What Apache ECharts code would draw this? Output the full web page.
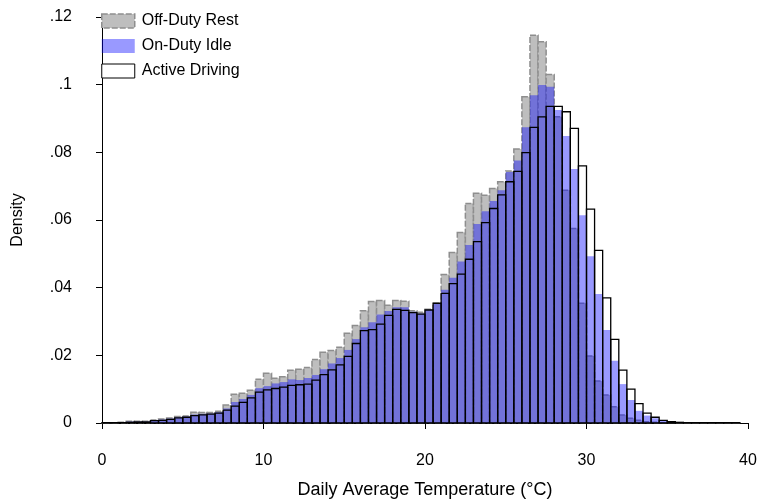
<!DOCTYPE html>
<html>
<head>
<meta charset="utf-8">
<script src="https://cdn.jsdelivr.net/npm/echarts@6/dist/echarts.min.js"></script>
<style>
  html, body { margin: 0; padding: 0; background: #fff; }
  #chart { width: 761px; height: 500px; }
</style>
</head>
<body>
<div id="chart"></div>
<script>
// Histogram bins: 0.5 °C wide, starting at 0 °C
var binStart = 0;
var binWidth = 0.5;

// Density per bin
var offDutyRest = [
  0.0001, 0.0001, 0.0002, 0.0005, 0.0005, 0.0005, 0.0009, 0.0012, 0.0015, 0.0019,
  0.0021, 0.0032, 0.0031, 0.0031, 0.0035, 0.0053, 0.0085, 0.0088, 0.0097, 0.0129,
  0.0147, 0.0132, 0.0137, 0.0156, 0.0159, 0.0164, 0.0188, 0.0209, 0.0214, 0.0224,
  0.0265, 0.0288, 0.0332, 0.0359, 0.0362, 0.0348, 0.0362, 0.0360, 0.0332, 0.0327,
  0.0336, 0.0354, 0.0439, 0.0504, 0.0563, 0.0649, 0.0679, 0.0673, 0.0693, 0.0713,
  0.0745, 0.0810, 0.0964, 0.1146, 0.1127, 0.1030, 0.0905, 0.0688, 0.0575, 0.0354,
  0.0198, 0.0124, 0.0083, 0.0048, 0.0024, 0.0014, 0.0008, 0.0004, 0.0002, 0.0001,
  0.0000, 0.0000, 0.0000, 0.0000, 0.0000, 0.0000, 0.0000, 0.0000, 0.0000
];

var onDutyIdle = [
  0.0001, 0.0001, 0.0001, 0.0004, 0.0004, 0.0004, 0.0008, 0.0010, 0.0013, 0.0017,
  0.0019, 0.0025, 0.0027, 0.0028, 0.0032, 0.0043, 0.0062, 0.0071, 0.0083, 0.0103,
  0.0109, 0.0117, 0.0121, 0.0129, 0.0127, 0.0133, 0.0142, 0.0159, 0.0176, 0.0192,
  0.0216, 0.0248, 0.0283, 0.0298, 0.0321, 0.0331, 0.0342, 0.0342, 0.0329, 0.0324,
  0.0335, 0.0354, 0.0394, 0.0429, 0.0477, 0.0526, 0.0588, 0.0626, 0.0656, 0.0688,
  0.0742, 0.0776, 0.0874, 0.0969, 0.0999, 0.0994, 0.0925, 0.0848, 0.0751, 0.0614,
  0.0493, 0.0381, 0.0275, 0.0184, 0.0115, 0.0068, 0.0036, 0.0022, 0.0014, 0.0006,
  0.0002, 0.0001, 0.0000, 0.0000, 0.0000, 0.0000, 0.0000, 0.0000, 0.0000
];

var activeDriving = [
  0.0001, 0.0001, 0.0001, 0.0002, 0.0003, 0.0003, 0.0007, 0.0008, 0.0011, 0.0015,
  0.0017, 0.0022, 0.0024, 0.0026, 0.0029, 0.0038, 0.0050, 0.0061, 0.0074, 0.0091,
  0.0098, 0.0102, 0.0106, 0.0111, 0.0113, 0.0115, 0.0127, 0.0143, 0.0157, 0.0172,
  0.0197, 0.0235, 0.0273, 0.0276, 0.0292, 0.0318, 0.0336, 0.0333, 0.0326, 0.0322,
  0.0334, 0.0354, 0.0383, 0.0412, 0.0440, 0.0484, 0.0536, 0.0592, 0.0634, 0.0674,
  0.0713, 0.0744, 0.0799, 0.0874, 0.0905, 0.0936, 0.0936, 0.0920, 0.0871, 0.0760,
  0.0632, 0.0510, 0.0370, 0.0247, 0.0156, 0.0100, 0.0057, 0.0029, 0.0017, 0.0008,
  0.0004, 0.0002, 0.0001, 0.0001, 0.0001, 0.0001, 0.0001, 0.0001, 0.0001
];

var xTicks = { min: 0, max: 40, interval: 10 };
var yTicks = { min: 0, max: 0.12, interval: 0.02 };

var FONT = '"Liberation Sans", Helvetica, Arial, sans-serif';

// [binLeft, binRight, density] rows for a custom series
function toBins(values) {
  return values.map(function (v, i) {
    var left = binStart + i * binWidth;
    return [left, left + binWidth, v];
  });
}

function barRenderer(style) {
  return function (params, api) {
    var top = api.coord([api.value(0), api.value(2)]);
    var bottom = api.coord([api.value(1), 0]);
    return {
      type: 'rect',
      shape: {
        x: top[0],
        y: top[1],
        width: bottom[0] - top[0],
        height: bottom[1] - top[1]
      },
      style: style
    };
  };
}

var restStyle = { fill: '#bebebe', stroke: '#8e8e8e', lineWidth: 1.5, lineDash: [6, 2] };
var idleStyle = { fill: 'rgba(0,0,255,0.4)', stroke: null };
var driveStyle = { fill: 'none', stroke: '#000', lineWidth: 1.3 };

var chart = echarts.init(document.getElementById('chart'), null, { renderer: 'canvas' });

chart.setOption({
  animation: false,
  backgroundColor: '#fff',
  textStyle: { fontFamily: FONT, color: '#000' },
  grid: { left: 102, right: 13, top: 17, bottom: 77, containLabel: false, outerBoundsMode: 'none' },
  legend: {
    left: 96,
    top: 8,
    orient: 'vertical',
    itemWidth: 33,
    itemHeight: 14,
    itemGap: 9,
    icon: 'rect',
    textStyle: { fontFamily: FONT, fontSize: 16, color: '#000', padding: [0, 0, 0, 2] },
    data: [
      { name: 'Off-Duty Rest', itemStyle: { color: '#bebebe', borderColor: '#8e8e8e', borderWidth: 1.5, borderType: [6, 2] } },
      { name: 'On-Duty Idle', itemStyle: { color: 'rgba(0,0,255,0.4)', borderWidth: 0 } },
      { name: 'Active Driving', itemStyle: { color: '#fff', borderColor: '#000', borderWidth: 1 } }
    ]
  },
  xAxis: {
    type: 'value',
    min: xTicks.min,
    max: xTicks.max,
    interval: xTicks.interval,
    offset: 13,
    name: 'Daily Average Temperature (°C)',
    nameLocation: 'middle',
    nameGap: 45,
    nameTextStyle: { fontFamily: FONT, fontSize: 18, color: '#000' },
    axisLine: { show: true, lineStyle: { color: '#000', width: 1 } },
    axisTick: { show: true, length: 6, lineStyle: { color: '#000' } },
    axisLabel: { margin: 17, fontFamily: FONT, fontSize: 16, color: '#000' },
    splitLine: { show: false }
  },
  yAxis: {
    type: 'value',
    min: yTicks.min,
    max: yTicks.max,
    interval: yTicks.interval,
    offset: 14,
    name: 'Density',
    nameLocation: 'middle',
    nameGap: 62,
    nameTextStyle: { fontFamily: FONT, fontSize: 16, color: '#000' },
    axisLine: { show: true, lineStyle: { color: '#000', width: 1 } },
    axisTick: { show: true, length: 6, lineStyle: { color: '#000' } },
    axisLabel: {
      margin: 16,
      fontFamily: FONT,
      fontSize: 16,
      color: '#000',
      formatter: function (v) {
        if (v === 0) return '0';
        return v.toFixed(2).replace(/^0/, '').replace(/0$/, '');
      }
    },
    splitLine: { show: false }
  },
  series: [
    {
      name: 'Off-Duty Rest',
      type: 'custom',
      renderItem: barRenderer(restStyle),
      encode: { x: [0, 1], y: 2 },
      data: toBins(offDutyRest),
      z: 1
    },
    {
      name: 'On-Duty Idle',
      type: 'custom',
      renderItem: barRenderer(idleStyle),
      encode: { x: [0, 1], y: 2 },
      data: toBins(onDutyIdle),
      z: 2
    },
    {
      name: 'Active Driving',
      type: 'custom',
      renderItem: barRenderer(driveStyle),
      encode: { x: [0, 1], y: 2 },
      data: toBins(activeDriving),
      z: 3
    }
  ]
});
</script>
</body>
</html>
